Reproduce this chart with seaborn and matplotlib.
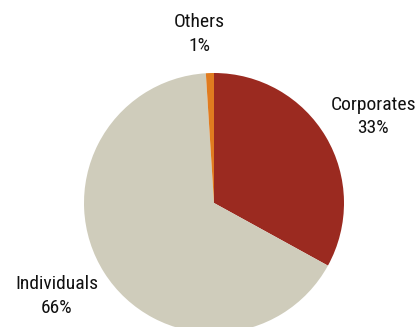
import matplotlib
matplotlib.use("Agg")
import matplotlib.pyplot as plt
import seaborn as sns

categories = ["Corporates", "Individuals", "Others"]
values = [33, 66, 1]
pct_labels = ["33%", "66%", "1%"]
colors = ["#9B2A20", "#CFCCBB", "#E07B1F"]

sns.set_theme(style="white")
plt.rcParams['font.family'] = ['Roboto Condensed', 'Barlow Semi Condensed',
                               'Sofia Sans Semi Condensed', 'DejaVu Sans']

fig = plt.figure(figsize=(4.18, 3.27), dpi=100)
ax = fig.add_axes([84/418, -6/327, 260/418, 260/327])
palette = sns.color_palette(colors)
ax.pie(values, colors=palette, startangle=90, counterclock=False,
       wedgeprops=dict(linewidth=0))
ax.set_xlim(-1, 1)
ax.set_ylim(-1, 1)
ax.set_aspect('equal')
ax.axis('off')

label_pos = {"Corporates": (1.225, 0.665), "Individuals": (-1.21, -0.715), "Others": (-0.115, 1.30)}
for cat, pct in zip(categories, pct_labels):
    x, y = label_pos[cat]
    ax.text(x, y, f"{cat}\n{pct}", ha="center", va="center", fontsize=14,
            linespacing=1.38, color="#111111", clip_on=False)

fig.savefig("out.png", dpi=100)
